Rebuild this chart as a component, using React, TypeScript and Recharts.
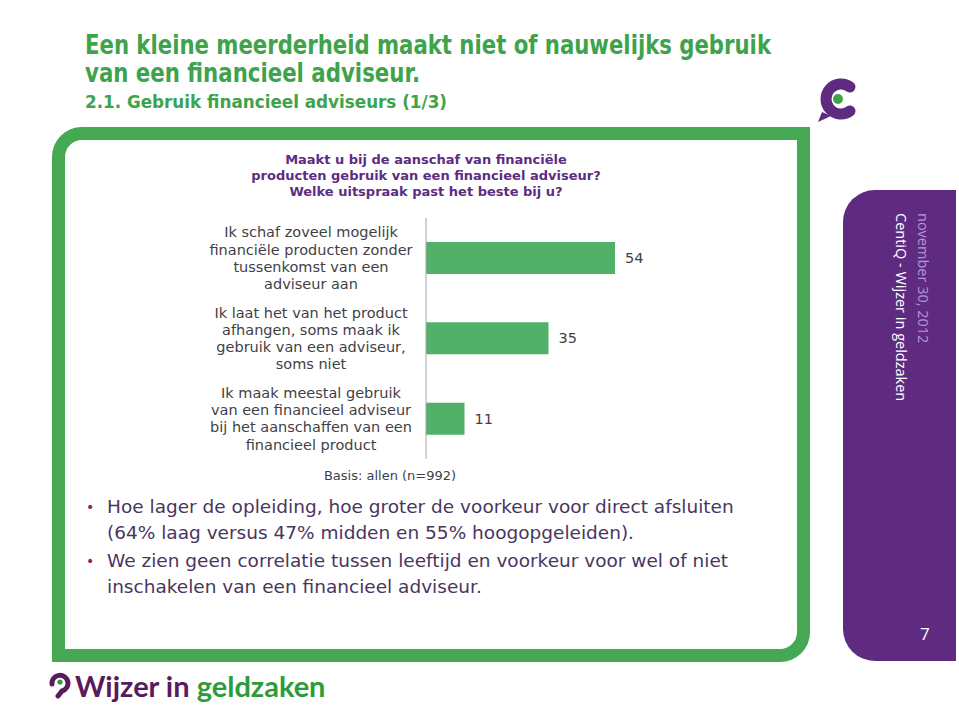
import React from 'react'
import { Bar, BarChart, LabelList, XAxis, YAxis } from 'recharts'

const categories = [
  'Ik schaf zoveel mogelijk\nfinanciële producten zonder\ntussenkomst van een\nadviseur aan',
  'Ik laat het van het product\nafhangen, soms maak ik\ngebruik van een adviseur,\nsoms niet',
  'Ik maak meestal gebruik\nvan een financieel adviseur\nbij het aanschaffen van een\nfinancieel product',
]
const values = [54, 35, 11]
const xDomain = [0, 60]

const questionLines = [
  'Maakt u bij de aanschaf van financiële',
  'producten gebruik van een financieel adviseur?',
  'Welke uitspraak past het beste bij u?',
]
const bullets = [
  [
    'Hoe lager de opleiding, hoe groter de voorkeur voor direct afsluiten',
    '(64% laag versus 47% midden en 55% hoogopgeleiden).',
  ],
  [
    'We zien geen correlatie tussen leeftijd en voorkeur voor wel of niet',
    'inschakelen van een financieel adviseur.',
  ],
]

const data = categories.map((label, i) => ({ label, value: values[i] }))

const GREEN = '#45a852'
const TITLE_GREEN = '#3ea34b'
const BAR = '#52b168'
const PURPLE = '#5e2b80'
const TEXT = '#3f3f48'
const VERDANA = 'Verdana, "DejaVu Sans", sans-serif'

const TICK_CENTER = 131
const LINE_H = 17.3

function CategoryTick(props: any) {
  const { y, payload } = props
  const lines = String(payload.value).split('\n')
  const n = lines.length
  return (
    <text
      x={TICK_CENTER}
      y={y}
      textAnchor="middle"
      fill={TEXT}
      fontSize={14.5}
      fontFamily={VERDANA}
    >
      {lines.map((l, i) => (
        <tspan key={i} x={TICK_CENTER} y={y + (i - (n - 1) / 2) * LINE_H + 5}>
          {l}
        </tspan>
      ))}
    </text>
  )
}

function Chart() {
  return (
    <BarChart
      layout="vertical"
      width={500}
      height={280}
      data={data}
      margin={{ top: 18, right: 44, bottom: 21, left: 0 }}
    >
      <XAxis type="number" domain={xDomain} hide />
      <YAxis
        type="category"
        dataKey="label"
        width={246}
        interval={0}
        axisLine={{ stroke: '#a6a6a6' }}
        tickLine={false}
        tick={<CategoryTick />}
      />
      <Bar dataKey="value" fill={BAR} barSize={32} isAnimationActive={false}>
        <LabelList
          dataKey="value"
          position="right"
          offset={10}
          fill={TEXT}
          fontSize={14.5}
          fontFamily={VERDANA}
        />
      </Bar>
    </BarChart>
  )
}

function SideText({ left, color, size, children }: any) {
  return (
    <div
      style={{
        position: 'absolute',
        left,
        top: 213,
        transformOrigin: '0 0',
        transform: 'rotate(90deg)',
        fontFamily: '"Open Sans", sans-serif',
        fontSize: size,
        lineHeight: '18px',
        color,
        whiteSpace: 'nowrap',
      }}
    >
      {children}
    </div>
  )
}

export default function App() {
  return (
    <div
      style={{
        position: 'absolute',
        left: 0,
        top: 0,
        width: 959,
        height: 717,
        background: '#fff',
        overflow: 'hidden',
      }}
    >
      {/* slide title, squeezed like the original */}
      <svg
        width={959}
        height={120}
        style={{ position: 'absolute', left: 0, top: 0 }}
        fontFamily={VERDANA}
        fontWeight={700}
        fill={TITLE_GREEN}
      >
        <text x={85} y={54} fontSize={26} textLength={686} lengthAdjust="spacingAndGlyphs">
          Een kleine meerderheid maakt niet of nauwelijks gebruik
        </text>
        <text x={85} y={82} fontSize={26} textLength={335} lengthAdjust="spacingAndGlyphs">
          van een financieel adviseur.
        </text>
        <text x={85} y={108} fontSize={17.5} textLength={362} lengthAdjust="spacingAndGlyphs">
          2.1. Gebruik financieel adviseurs (1/3)
        </text>
      </svg>

      {/* logo top right */}
      <svg
        width={60}
        height={64}
        style={{ position: 'absolute', left: 808, top: 66 }}
      >
        <path
          d="M 42 21 A 15 15 0 1 0 42 45"
          fill="none"
          stroke={PURPLE}
          strokeWidth={11}
          strokeLinecap="round"
        />
        <path d="M 14 46 L 10 56 L 23 50 Z" fill={PURPLE} />
        <circle cx={30} cy={33} r={5} fill="#3fa34b" />
      </svg>

      {/* green frame */}
      <div
        style={{
          position: 'absolute',
          left: 52,
          top: 127,
          width: 758,
          height: 535,
          boxSizing: 'border-box',
          border: `13px solid ${GREEN}`,
          borderRadius: '30px 0 30px 0',
        }}
      />

      {/* side panel */}
      <div
        style={{
          position: 'absolute',
          left: 843,
          top: 190,
          width: 113,
          height: 471,
          background: PURPLE,
          borderRadius: '32px 0 0 32px',
        }}
      />
      <SideText left={932} color="#b596d3" size={14.5}>
        november 30, 2012
      </SideText>
      <SideText left={910} color="#ffffff" size={14.5}>
        CentiQ - Wijzer in geldzaken
      </SideText>
      <div
        style={{
          position: 'absolute',
          left: 920,
          top: 622,
          fontFamily: '"Open Sans", sans-serif',
          fontSize: 17,
          color: '#fff',
        }}
      >
        7
      </div>

      {/* question */}
      <div
        style={{
          position: 'absolute',
          left: 176,
          top: 152,
          width: 500,
          textAlign: 'center',
          fontFamily: VERDANA,
          fontWeight: 700,
          fontSize: 13,
          lineHeight: '16px',
          color: '#5c2d82',
        }}
      >
        {questionLines.map((l, i) => (
          <div key={i}>{l}</div>
        ))}
      </div>

      {/* chart */}
      <div style={{ position: 'absolute', left: 180, top: 200 }}>
        <Chart />
      </div>

      <div
        style={{
          position: 'absolute',
          left: 240,
          top: 468,
          width: 300,
          textAlign: 'center',
          fontFamily: VERDANA,
          fontSize: 13,
          lineHeight: '16px',
          color: TEXT,
        }}
      >
        Basis: allen (n=992)
      </div>

      {/* bullets */}
      {bullets.map((lines, i) => (
        <div
          key={i}
          style={{
            position: 'absolute',
            left: 107,
            top: 494 + i * 54,
            fontFamily: VERDANA,
            fontSize: 18.5,
            lineHeight: '26px',
            color: '#4a3560',
            whiteSpace: 'nowrap',
          }}
        >
          <span
            style={{
              position: 'absolute',
              left: -21,
              top: 0,
              color: '#8b2a5a',
              fontSize: 14,
            }}
          >
            •
          </span>
          {lines.map((l, j) => (
            <div key={j}>{l}</div>
          ))}
        </div>
      ))}

      {/* footer logo */}
      <svg
        width={26}
        height={28}
        style={{ position: 'absolute', left: 47, top: 671 }}
      >
        <path
          d="M 5 13 A 8 8 0 1 1 15 20 L 11 25"
          fill="none"
          stroke="#5a1a5e"
          strokeWidth={5}
          strokeLinecap="round"
        />
        <circle cx={13} cy={11} r={2.6} fill="#2e9b3a" />
      </svg>
      <div
        style={{
          position: 'absolute',
          left: 75,
          top: 668,
          fontFamily: 'Lato, sans-serif',
          fontWeight: 700,
          fontSize: 29,
          lineHeight: '36px',
          whiteSpace: 'nowrap',
        }}
      >
        <span style={{ color: '#5a1a5e' }}>Wijzer in </span>
        <span style={{ color: '#2e9b3a' }}>geldzaken</span>
      </div>
    </div>
  )
}
